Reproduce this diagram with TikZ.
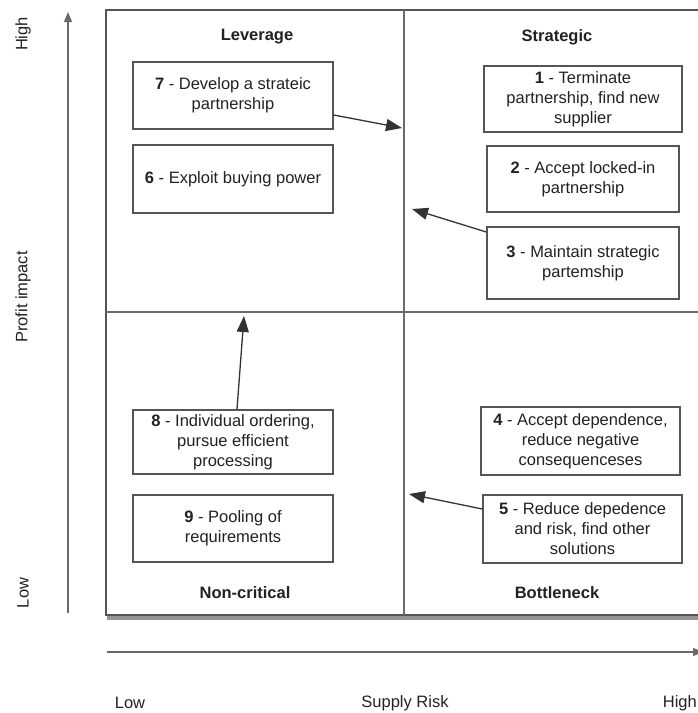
\documentclass[tikz,border=0pt]{standalone}
\usepackage{fontspec}
\setmainfont{Liberation Sans}
\usetikzlibrary{arrows.meta,shadows,calc}
\definecolor{linegray}{HTML}{6A6A6A}
\definecolor{boxgray}{HTML}{555555}
\definecolor{textc}{HTML}{222222}
\definecolor{arrowc}{HTML}{333333}
\begin{document}
\begin{tikzpicture}[x=1pt,y=-1pt,
  frame/.style={draw=boxgray, line width=1.8pt, fill=white},
  divider/.style={draw=linegray, line width=1.6pt},
  box/.style={draw=boxgray, line width=1.4pt, fill=white, align=center, inner sep=2pt,
    font=\fontsize{16.5}{20}\selectfont, text=textc},
  title/.style={font=\fontsize{16.5}{20}\selectfont\bfseries, text=textc},
  axlabel/.style={font=\fontsize{16.5}{20}\selectfont, text=textc},
  arr/.style={draw=arrowc, line width=1.3pt, -{Triangle[length=16pt,width=12pt]}},
  axis/.style={draw=linegray, line width=1.6pt, -{Triangle[length=10pt,width=8pt]}}
]
\useasboundingbox (0,0) rectangle (698,713);
\clip (0,0) rectangle (698,713);
\fill[white] (0,0) rectangle (698,713);

% frame and quadrants
\path[frame, drop shadow={shadow xshift=1pt, shadow yshift=-5pt, opacity=0.55, fill=black!75}] (106,10) rectangle (730,615);
\coordinate (mtop) at (404,10);
\coordinate (mbot) at (404,615);
\coordinate (hl) at (106,312);
\coordinate (hr) at (730,312);
\draw[divider] (mtop) -- (mbot);
\draw[divider] (hl) -- (hr);

% titles
\node[title] (tlev) at (257,37) {Leverage};
\node[title] (tstr) at (557,37) {Strategic};
\node[title] (tnon) at (245,593) {Non-critical};
\node[title] (tbot) at (557,593) {Bottleneck};

% boxes
\node[box, minimum width=200pt, minimum height=67pt] (n7) at (233,95.5) {\textbf{7} - Develop a strateic\\partnership};
\node[box, minimum width=200pt, minimum height=68pt] (n6) at (233,179) {\textbf{6} - Exploit buying power};
\node[box, minimum width=198pt, minimum height=66pt] (n1) at (583,99) {\textbf{1} - Terminate\\partnership, find new\\supplier};
\node[box, minimum width=192pt, minimum height=66pt] (n2) at (583,179) {\textbf{2} - Accept locked-in\\partnership};
\node[box, minimum width=192pt, minimum height=72pt] (n3) at (583,263) {\textbf{3} - Maintain strategic\\partemship};
\node[box, minimum width=200pt, minimum height=64pt] (n8) at (233,442) {\textbf{8} - Individual ordering,\\pursue efficient\\processing};
\node[box, minimum width=200pt, minimum height=67pt] (n9) at (233,528.5) {\textbf{9} - Pooling of\\requirements};
\node[box, minimum width=199pt, minimum height=68pt] (n4) at (580.5,441) {\textbf{4} - Accept dependence,\\reduce negative\\consequenceses};
\node[box, minimum width=199pt, minimum height=68pt] (n5) at (582.5,529) {\textbf{5} - Reduce depedence\\and risk, find other\\solutions};

% arrows
\coordinate (e7) at (402,128);
\coordinate (e3) at (412,209);
\coordinate (e8) at (244,316);
\coordinate (e5) at (409,494);
\draw[arr] ($(n7.east)+(0,19.5)$) -- (e7);
\draw[arr] ($(n3.west)+(0,-31)$) -- (e3);
\draw[arr] ($(n8.north)+(4,0)$) -- (e8);
\draw[arr] ($(n5.west)+(0,-20)$) -- (e5);

% axes
\coordinate (ya) at (68,613);
\coordinate (yb) at (68,12);
\coordinate (xa) at (107,652);
\coordinate (xb) at (703,652);
\draw[axis] (ya) -- (yb);
\draw[axis] (xa) -- (xb);

\node[axlabel, rotate=90] (yhigh) at (23,34) {High};
\node[axlabel, rotate=90] (yprof) at (23,297) {Profit impact};
\node[axlabel, rotate=90] (ylow) at (23,593) {Low};
\node[axlabel] (xlow) at (130,703) {Low};
\node[axlabel] (xmid) at (405,703) {Supply Risk};
\node[axlabel, anchor=east, inner xsep=0pt] (xhigh) at (697,703) {High};
\end{tikzpicture}
\end{document}
